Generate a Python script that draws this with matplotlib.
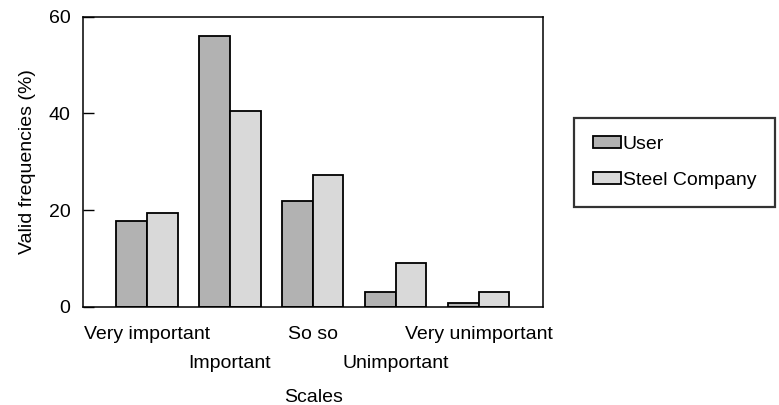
import matplotlib
matplotlib.use("Agg")
import matplotlib.pyplot as plt
import numpy as np

plt.rcParams['font.family'] = ['Liberation Sans', 'DejaVu Sans']

scales = ['Very important', 'Important', 'So so', 'Unimportant', 'Very unimportant']
user = [17.7, 56.1, 21.8, 3.1, 0.7]
steel = [19.3, 40.4, 27.2, 9.0, 3.1]

fs = 14

fig = plt.figure(figsize=(7.79, 4.05), dpi=100)
ax = fig.add_axes([0.1066, 0.2427, 0.5909, 0.7161])

x = np.arange(len(scales))
w = 0.37
ax.bar(x - w / 2, user, w, color='#b2b2b2', edgecolor='black', linewidth=1.3, label='User')
ax.bar(x + w / 2, steel, w, color='#d9d9d9', edgecolor='black', linewidth=1.3, label='Steel Company')

ax.set_xlim(-0.77, 4.78)
ax.set_ylim(0, 60)
ax.set_yticks([0, 20, 40, 60])
ax.set_xticks(x)
ax.set_xticklabels(scales)
ax.tick_params(axis='y', direction='in', length=8, width=1, labelsize=fs, pad=9)
ax.tick_params(axis='x', length=0, labelsize=fs)
# stagger the category labels on two rows
for i, t in enumerate(ax.xaxis.get_major_ticks()):
    t.set_pad(14 if i % 2 == 0 else 35)
for s in ax.spines.values():
    s.set_linewidth(1.1)

ax.set_ylabel('Valid frequencies (%)', fontsize=fs, labelpad=9)
ax.set_xlabel('Scales', fontsize=fs, labelpad=12)

leg = ax.legend(loc='center left', bbox_to_anchor=(0.737, 0.599), bbox_transform=fig.transFigure,
                fontsize=fs, frameon=True, fancybox=False, edgecolor='black',
                handlelength=1.45, handleheight=0.55, handletextpad=0.1,
                borderpad=0.95, labelspacing=0.95, borderaxespad=0)
leg.get_frame().set_linewidth(1.6)

fig.savefig('out.png', dpi=100)
